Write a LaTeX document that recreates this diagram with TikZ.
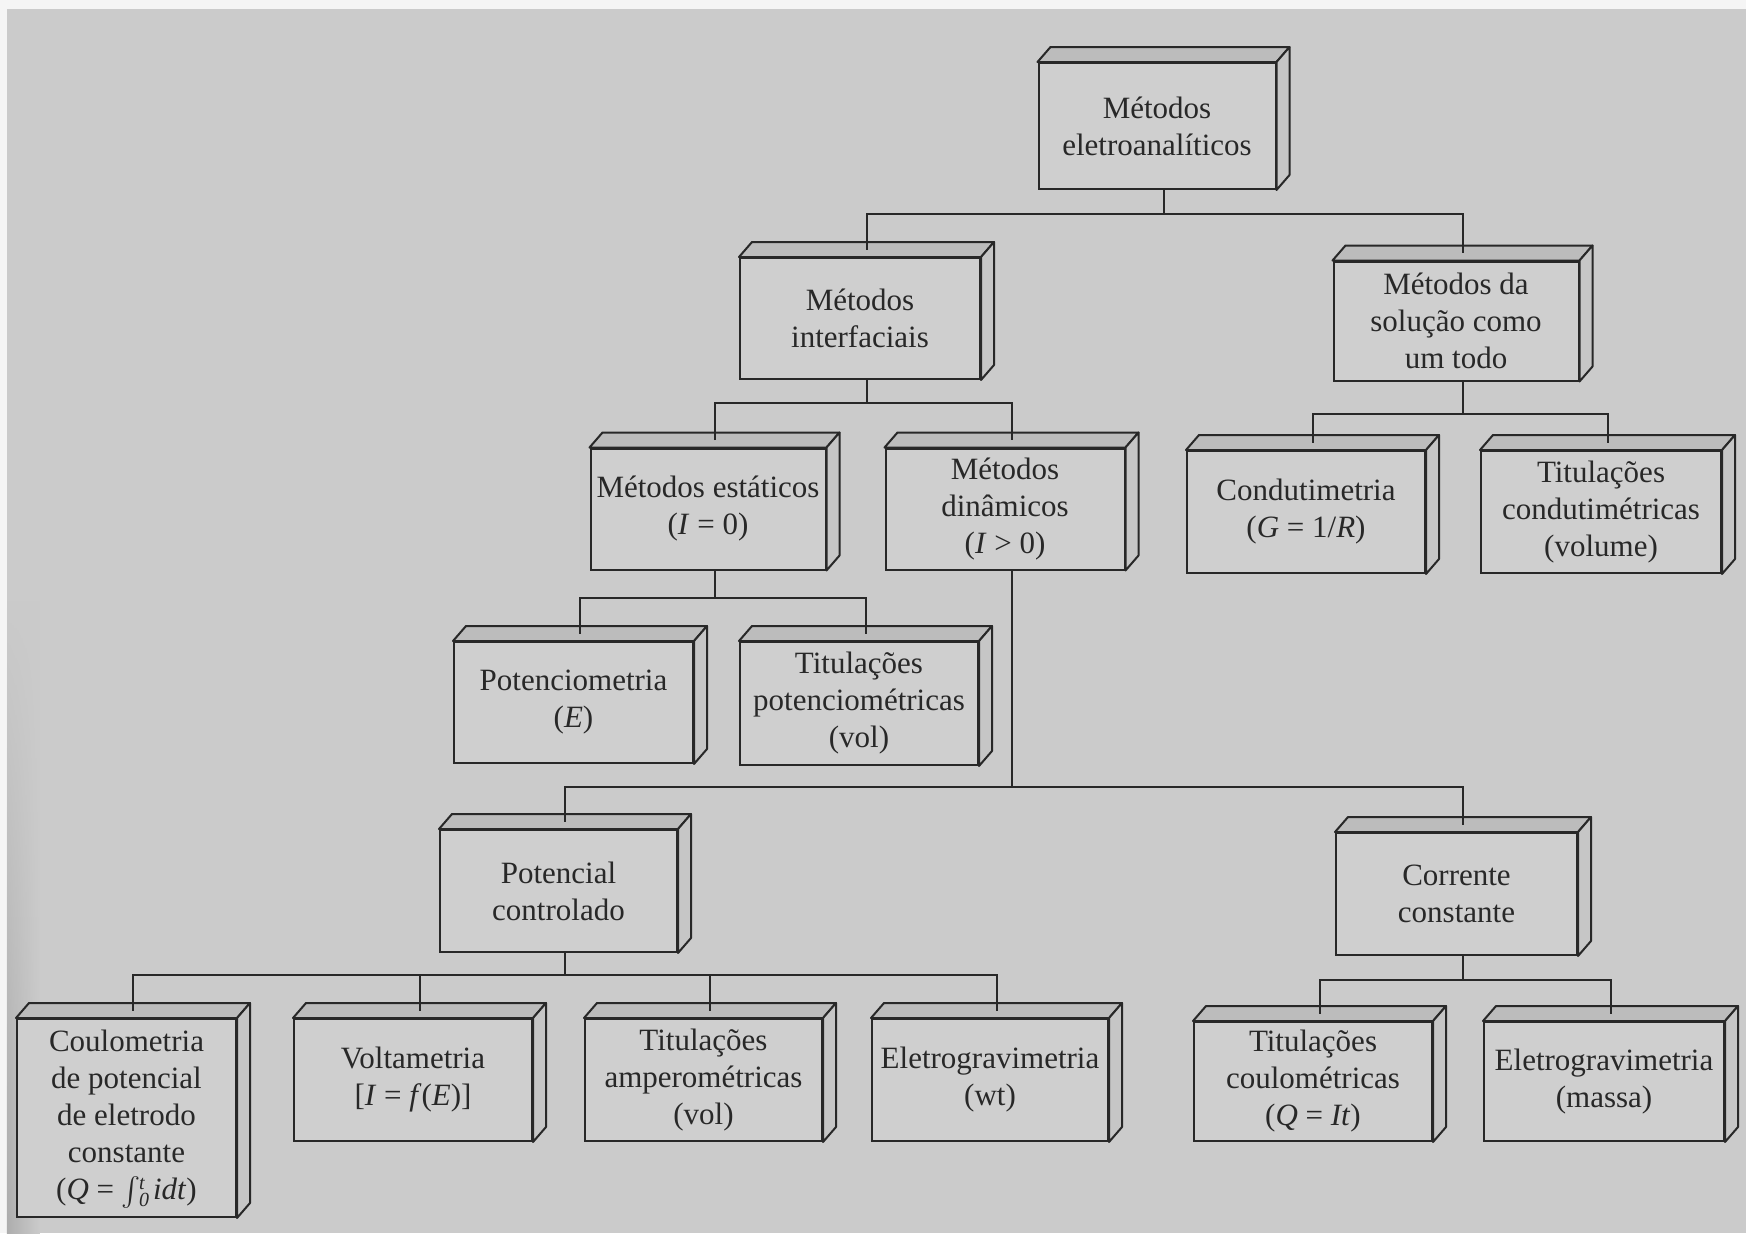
\documentclass[tikz,border=0pt]{standalone}
\usepackage{exscale}
\usepackage{fontspec}
\setmainfont{Liberation Serif}
\usetikzlibrary{calc,fadings}
\definecolor{bg}{RGB}{203,203,203}
\definecolor{boxbg}{RGB}{207,207,207}
\definecolor{ink}{RGB}{40,40,40}
\definecolor{topface}{RGB}{188,188,188}
\definecolor{sideface}{RGB}{198,198,198}
\newcommand\limsz{\fontsize{10}{10}\selectfont}
\begin{document}
\begin{tikzpicture}[x=0.5pt,y=-0.5pt,
  box/.style 2 args={draw=ink, line width=1pt, fill=boxbg, rectangle, inner sep=0pt,
    minimum width=#1, minimum height=#2, align=center, text=ink,
    font=\fontsize{15.5}{18.5}\selectfont},
  box/.default={119pt}{61pt},
  conn/.style={draw=ink, line width=1pt},
  face/.style={draw=ink, line width=1pt, line join=round}]
% page
\useasboundingbox (0,0) rectangle (1746,1233);
\fill[white!96!black] (0,0) rectangle (1746,1233);
\fill[bg] (7,9) rectangle (1746,1233);
\shade[left color=black!32, right color=bg, path fading=north] (7,600) rectangle (40,1233);

% nodes
\node[box={118.5pt}{63pt}] (root) at (1157,126) {Métodos\\eletroanalíticos};
\node[box={120pt}{60.5pt}] (inter) at (860,318.5) {Métodos\\interfaciais};
\node[box={122.5pt}{59.5pt}] (sol) at (1456,321) {Métodos da\\solução como\\um todo};
\node[box={117.5pt}{60.5pt}] (est) at (708,509) {Métodos estáticos\\(\textit{I} = 0)};
\node[box={119.5pt}{60.5pt}] (din) at (1005,509) {Métodos\\dinâmicos\\(\textit{I} {>} 0)};
\node[box={119pt}{61pt}] (cond) at (1306,512) {Condutimetria\\(\textit{G} = 1/\textit{R})};
\node[box={120pt}{61pt}] (tcond) at (1601,512) {Titulações\\condutimétricas\\(volume)};
\node[box={119.5pt}{60.5pt}] (pot) at (573.5,702.5) {Potenciometria\\(\textit{E})};
\node[box={119pt}{61.5pt}] (tpot) at (859,703.5) {Titulações\\potenciométricas\\(vol)};
\node[box={118.5pt}{61pt}] (pc) at (558.5,891) {Potencial\\controlado};
\node[box={120.5pt}{61pt}] (cc) at (1456.5,894) {Corrente\\constante};
\node[box={109.5pt}{99pt}] (coul) at (126.5,1118) {Coulometria\\de potencial\\de eletrodo\\constante\\(\textit{Q} = \smash{$\int$}\kern-1pt\smash{\raisebox{5pt}{\limsz\textit{t}}}\kern-3pt\smash{\raisebox{-3.5pt}{\limsz\textit{0}}}\kern2pt\textit{idt})};
\node[box={119pt}{61pt}] (volt) at (413,1080) {Voltametria\\{[}\textit{I} = \textit{f}(\textit{E})]};
\node[box={118.5pt}{61pt}] (amp) at (703.5,1080) {Titulações\\amperométricas\\(vol)};
\node[box={118pt}{61pt}] (wt) at (990,1080) {Eletrogravimetria\\(wt)};
\node[box={119pt}{59.5pt}] (tcoul) at (1313,1081.5) {Titulações\\coulométricas\\(\textit{Q} = \textit{It})};
\node[box={120pt}{59.5pt}] (massa) at (1604,1081.5) {Eletrogravimetria\\(massa)};

% 3D faces and connector anchors
\foreach \n in {root,inter,sol,est,din,cond,tcond,pot,tpot,pc,cc,coul,volt,amp,wt,tcoul,massa}{
  \filldraw[face, fill=topface] (\n.north west) -- ($(\n.north west)+(6.5pt,7.5pt)$)
     -- ($(\n.north east)+(6.5pt,7.5pt)$) -- (\n.north east) -- cycle;
  \filldraw[face, fill=sideface] (\n.north east) -- ($(\n.north east)+(6.5pt,7.5pt)$)
     -- ($(\n.south east)+(6.5pt,7.5pt)$) -- (\n.south east) -- cycle;
  \coordinate (\n-b) at ($(\n.south)+(3.25pt,0)$);
  \coordinate (\n-t) at ($(\n.north)+(3.25pt,3.75pt)$);
}

% bus levels
\coordinate (busA) at (0,214);
\coordinate (busB) at (0,403);
\coordinate (busC) at (0,414);
\coordinate (busD) at (0,598);
\coordinate (busE) at (0,787);
\coordinate (busF) at (0,975);
\coordinate (busG) at (0,980);

% connectors
\draw[conn] (root-b) -- (root-b |- busA);
\draw[conn] (inter-t) -- (inter-t |- busA) -- (sol-t |- busA) -- (sol-t);

\draw[conn] (inter-b) -- (inter-b |- busB);
\draw[conn] (est-t) -- (est-t |- busB) -- (din-t |- busB) -- (din-t);

\draw[conn] (sol-b) -- (sol-b |- busC);
\draw[conn] (cond-t) -- (cond-t |- busC) -- (tcond-t |- busC) -- (tcond-t);

\draw[conn] (est-b) -- (est-b |- busD);
\draw[conn] (pot-t) -- (pot-t |- busD) -- (tpot-t |- busD) -- (tpot-t);

\draw[conn] (din-b) -- (din-b |- busE);
\draw[conn] (pc-t) -- (pc-t |- busE) -- (cc-t |- busE) -- (cc-t);

\draw[conn] (pc-b) -- (pc-b |- busF);
\draw[conn] (coul-t) -- (coul-t |- busF) -- (wt-t |- busF) -- (wt-t);
\draw[conn] (volt-t) -- (volt-t |- busF);
\draw[conn] (amp-t) -- (amp-t |- busF);

\draw[conn] (cc-b) -- (cc-b |- busG);
\draw[conn] (tcoul-t) -- (tcoul-t |- busG) -- (massa-t |- busG) -- (massa-t);
\end{tikzpicture}
\end{document}
